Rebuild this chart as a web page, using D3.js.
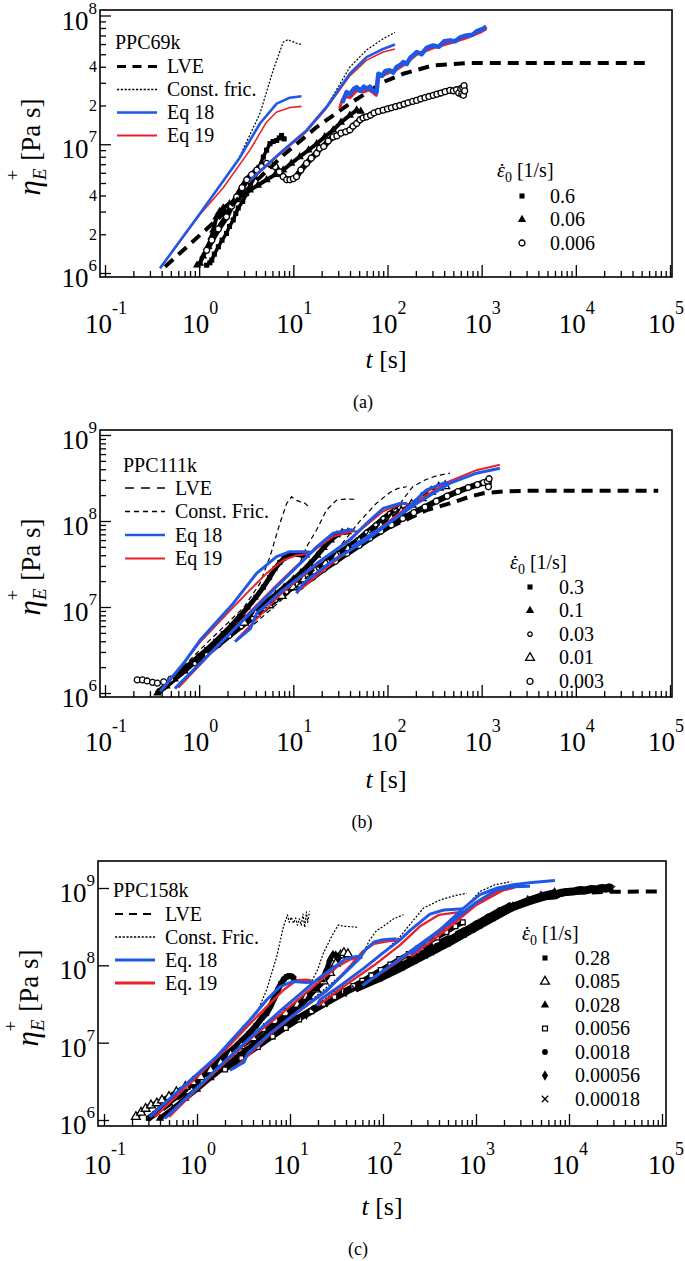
<!DOCTYPE html>
<html><head><meta charset="utf-8">
<script src="https://cdn.jsdelivr.net/npm/d3@7/dist/d3.min.js"></script>
<style>
body{margin:0;background:#fff}
svg{display:block}
text{font-family:"Liberation Serif","Times New Roman",serif;fill:#000}
</style>
</head><body>
<svg id="fig" width="685" height="1261"></svg>
<script>
// ===================== DATA (t [s], eta [Pa s]) =====================
// ---- Panel (a) PPC69k ----
const aSample = "PPC69k";
const aCurveLabels = ["LVE","Const. fric.","Eq 18","Eq 19"];
const aRates = ["0.6","0.06","0.006"];
const aLVE = [[0.434,1.12e6],[1.53,2.58e6],[3.46,4.67e6],[7.8,8.2e6],[17.7,1.36e7],[39.8,2.07e7],[90,3.04e7],[147,3.53e7],[306,4.1e7],[692,4.27e7],[6.1e4,4.27e7]];
const aCF1 = [[0.384,1.09e6],[1.02,2.9e6],[2.6,7.6e6],[4.42,1.73e7],[6.1,3.75e7],[7.8,6.2e7],[8.8,6.5e7],[9.5,6.3e7],[10.3,6.2e7],[11.2,6.0e7],[12.2,6.0e7]];
const aCF2 = [[3.46,5.26e6],[13.8,1.28e7],[22.5,1.95e7],[39.8,3.97e7],[60,5.4e7],[90,6.6e7],[120,7.4e7]];
const aB1 = [[0.384,1.09e6],[1.02,2.9e6],[2.71,7.9e6],[4.42,1.45e7],[6.65,2.07e7],[9.2,2.3e7],[12.2,2.36e7]];
const aB2 = [[3.46,5.26e6],[7.8,9.0e6],[13.8,1.28e7],[22.5,1.95e7],[39.8,3.53e7],[60,4.75e7],[90,5.5e7],[120,5.96e7]];
const aB3 = [[33,2.1e7],[36.8,2.54e7],[40,2.45e7],[44,2.7e7],[47,2.78e7],[52,2.6e7],[56,2.8e7],[60,2.7e7],[65,2.8e7],[70,2.6e7],[76.6,2.54e7],[78,3.0e7],[80,3.53e7],[88,3.4e7],[95,3.7e7],[106,3.75e7],[115,3.6e7],[125,3.98e7],[135,4.1e7],[147,4.35e7],[160,4.2e7],[175,4.7e7],[204,5.2e7],[230,5.0e7],[260,5.6e7],[306,5.85e7],[350,5.7e7],[400,6.3e7],[459,6.4e7],[520,6.3e7],[600,6.8e7],[691,7.0e7],[800,7.1e7],[900,7.6e7],[1000,7.8e7],[1122,8.2e7]];
const aR1 = [[0.384,1.09e6],[1,2.8e6],[1.8,4.6e6],[3.46,9.0e6],[5.2,1.49e7],[6.65,1.78e7],[9.2,1.93e7],[12.2,1.97e7]];
const aR2 = [[3.6,5.3e6],[7.8,8.8e6],[13.8,1.25e7],[22.5,1.9e7],[39.8,3.4e7],[60,4.5e7],[90,5.2e7],[120,5.5e7]];
const aR3 = [[31,1.9e7],[33,2.2e7],[36,2.35e7],[40,2.3e7],[47,2.6e7],[56,2.55e7],[65,2.65e7],[76,2.4e7],[80,3.3e7],[95,3.5e7],[125,3.8e7],[147,4.1e7],[204,5.0e7],[306,5.6e7],[459,6.1e7],[691,6.7e7],[1000,7.5e7],[1122,7.9e7]];
const aSq = [[1.2,1.15e6],[1.3,1.2e6],[1.36,1.26e6],[1.45,1.4e6],[1.6,1.6e6],[1.75,1.8e6],[1.95,2.03e6],[2.1,2.3e6],[2.3,2.58e6],[2.45,2.9e6],[2.6,3.2e6],[2.9,3.6e6],[3.2,4.15e6],[3.5,4.8e6],[3.9,5.6e6],[4.3,6.6e6],[4.8,7.95e6],[5.2,9e6],[5.65,1.01e7],[6.1,1.05e7],[6.65,1.07e7],[7.1,1.12e7],[7.5,1.17e7],[8,1.1e7]];
const aTri = [[0.95,1.15e6],[1.02,1.19e6],[1.1,1.35e6],[1.25,1.6e6],[1.35,1.9e6],[1.41,2.15e6],[1.53,2.73e6],[1.65,3.0e6],[1.8,3.2e6],[2.1,3.45e6],[2.5,3.7e6],[3,4.1e6],[3.46,4.4e6],[4.2,4.8e6],[5.2,5.3e6],[6.4,5.8e6],[7.8,6.3e6],[9.5,7.1e6],[11.7,8.0e6],[14.5,9.0e6],[17.7,1.01e7],[21.5,1.14e7],[26.5,1.29e7],[32,1.48e7],[39.8,1.68e7],[47,1.84e7],[52,1.8e7]];
const aCirc = [[1.2,1.5e6],[1.36,1.8e6],[1.6,2.2e6],[1.95,2.73e6],[2.2,3.3e6],[2.5,3.9e6],[2.85,4.6e6],[3.2,5.3e6],[3.6,5.8e6],[4.1,6.3e6],[4.6,6.7e6],[5.2,7.1e6],[5.8,6.9e6],[6.4,6.7e6],[7.1,6.1e6],[7.8,5.6e6],[8.5,5.3e6],[9.2,5.3e6],[10,5.4e6],[10.8,5.6e6],[12,6.3e6],[13.8,7.1e6],[15.5,7.8e6],[17.7,8.5e6],[19,9.3e6],[21,9.6e6],[23.5,1.06e7],[26.5,1.14e7],[29,1.16e7],[32,1.22e7],[36,1.25e7],[39.8,1.29e7],[43,1.38e7],[47,1.45e7],[51,1.55e7],[55,1.6e7],[60,1.63e7],[66,1.68e7],[72,1.75e7],[80,1.8e7],[90,1.84e7],[100,1.88e7],[110,1.92e7],[122,1.96e7],[135,2.0e7],[150,2.05e7],[165,2.1e7],[185,2.15e7],[204,2.19e7],[225,2.25e7],[250,2.3e7],[275,2.35e7],[306,2.4e7],[335,2.45e7],[370,2.5e7],[410,2.56e7],[459,2.62e7],[500,2.6e7],[540,2.65e7],[570,2.5e7],[600,2.7e7],[615,2.45e7],[630,2.75e7],[640,2.4e7],[650,2.85e7],[660,2.6e7]];

// ---- Panel (b) PPC111k ----
const bSample = "PPC111k";
const bCurveLabels = ["LVE","Const. Fric.","Eq 18","Eq 19"];
const bRates = ["0.3","0.1","0.03","0.01","0.003"];
const bLVE = [[0.35,1e6],[1,2.7e6],[3,7.5e6],[10,2.0e7],[30,4.4e7],[100,8.2e7],[260,1.34e8],[457,1.6e8],[750,1.92e8],[1040,2.1e8],[1700,2.2e8],[3000,2.25e8],[7.5e4,2.25e8]];
const bCF1 = [[0.38,1.05e6],[0.7,2.1e6],[1.2,3.8e6],[2,6.5e6],[3,1.0e7],[4.42,1.88e7],[5.65,3.85e7],[7.2,9.4e7],[8.5,1.6e8],[9.6,1.92e8],[10.2,1.8e8],[10.8,1.74e8],[11.8,1.68e8],[12.5,1.6e8],[13.2,1.62e8],[14,1.52e8],[15,1.47e8]];
const bCF2 = [[0.55,1.13e6],[1.02,2.2e6],[1.95,4.5e6],[3.46,8.4e6],[6.64,1.72e7],[11.8,3.3e7],[13.8,5.0e7],[17.7,7.9e7],[22.5,1.34e8],[28.8,1.75e8],[35,1.8e8],[45,1.79e8]];
const bCF3 = [[2.4,4e6],[10,1.6e7],[30,4.8e7],[51,1.0e8],[76,1.6e8],[106,2.15e8],[130,2.4e8],[160,2.5e8]];
const bCF4 = [[10.8,1.5e7],[30,3.8e7],[80,8.8e7],[130,1.5e8],[185,2.5e8],[250,3.0e8],[330,3.35e8],[460,3.6e8]];
const bB1 = [[0.384,1.04e6],[0.68,2.2e6],[1.02,4.1e6],[2.3,1.1e7],[4.07,2.46e7],[6.64,3.85e7],[9.2,4.4e7],[13.8,4.4e7],[15.5,4.3e7]];
const bB2 = [[0.553,1.13e6],[1.02,2.2e6],[1.95,4.5e6],[3.46,8.4e6],[6.64,1.72e7],[11.8,3.2e7],[17.7,5.0e7],[26.5,7.2e7],[39.8,7.9e7],[45,7.8e7]];
const bB3 = [[2.4,3.95e6],[3.5,5.6e6],[4.07,8.4e6],[7.8,1.58e7],[17.7,3.2e7],[39.8,6.0e7],[60,9.4e7],[90,1.4e8],[135,1.6e8],[160,1.6e8]];
const bB4 = [[10.8,1.44e7],[12.7,1.88e7],[26.5,3.5e7],[60,6.0e7],[135,1.17e8],[260,2.3e8],[390,2.74e8],[457,2.8e8]];
const bB5 = [[41.5,5.0e7],[90,8.6e7],[204,1.6e8],[457,2.74e8],[880,3.6e8],[1560,4.1e8]];
const bR1 = [[0.4,1.05e6],[1,3.8e6],[2,8.5e6],[3.46,1.58e7],[5.2,2.46e7],[7.8,3.5e7],[10.8,4.0e7],[13.8,4.1e7],[15,4.1e7]];
const bR2 = [[0.6,1.15e6],[1.5,3.3e6],[3.46,8.8e6],[6.64,1.8e7],[11.8,3.3e7],[17.7,4.8e7],[26.5,6.6e7],[39.8,7.5e7],[48,7.6e7]];
const bR3 = [[2.5,4.2e6],[7.8,1.5e7],[17.7,3.1e7],[39.8,6.2e7],[60,9.0e7],[90,1.3e8],[135,1.55e8],[165,1.6e8]];
const bR4 = [[11,1.5e7],[26.5,3.3e7],[60,6.2e7],[135,1.25e8],[260,2.2e8],[400,2.8e8],[480,2.9e8]];
const bR5 = [[42,4.9e7],[90,8.8e7],[204,1.7e8],[457,2.9e8],[880,3.9e8],[1560,4.5e8]];
const bSq = [[0.38,1.05e6],[0.45,1.25e6],[0.55,1.5e6],[0.7,1.95e6],[0.85,2.3e6],[1,2.7e6],[1.2,3.2e6],[1.5,4.0e6],[1.8,4.9e6],[2.2,6.1e6],[2.7,7.8e6],[3.3,1.0e7],[4,1.3e7],[4.8,1.7e7],[5.6,2.2e7],[6.4,2.8e7],[7.2,3.3e7],[8,3.7e7],[9,4.0e7],[10,4.1e7],[11,4.1e7],[12.5,4.0e7],[14,4.0e7]];
const bTri = [[0.36,1.0e6],[0.45,1.2e6],[0.55,1.45e6],[0.7,1.8e6],[0.9,2.3e6],[1.1,2.8e6],[1.4,3.5e6],[1.8,4.4e6],[2.3,5.5e6],[3,7.0e6],[4,9.0e6],[5,1.1e7],[6.5,1.4e7],[8,1.7e7],[10,2.1e7],[12,2.5e7],[15,3.2e7],[18,4.0e7],[21,4.9e7],[25,6.0e7],[29,6.9e7],[33,7.4e7],[38,7.5e7]];
const bCircS = [[0.9,2.2e6],[1.2,2.8e6],[1.6,3.6e6],[2.1,4.6e6],[2.8,5.9e6],[3.7,7.4e6],[5,9.5e6],[6.5,1.2e7],[8.5,1.5e7],[11,1.85e7],[14,2.3e7],[18,2.8e7],[23,3.4e7],[30,4.2e7],[38,5.0e7],[48,6.0e7],[60,7.4e7],[75,9.0e7],[90,1.07e8],[105,1.22e8],[120,1.35e8],[135,1.42e8]];
const bTriO = [[3,6.6e6],[4,8.3e6],[5.5,1.05e7],[7.5,1.35e7],[10,1.7e7],[13,2.1e7],[17,2.6e7],[22,3.2e7],[29,3.9e7],[38,4.7e7],[50,5.8e7],[65,7.1e7],[85,8.7e7],[110,1.06e8],[140,1.28e8],[180,1.55e8],[230,1.85e8],[290,2.2e8],[350,2.45e8],[410,2.55e8]];
const bCircEarly = [[0.22,1.42e6],[0.25,1.42e6],[0.28,1.38e6],[0.32,1.33e6],[0.36,1.3e6],[0.42,1.35e6],[0.5,1.45e6]];
const bCirc = [[12,1.75e7],[16,2.2e7],[21,2.75e7],[28,3.4e7],[37,4.2e7],[50,5.2e7],[65,6.3e7],[85,7.6e7],[110,9.0e7],[145,1.07e8],[190,1.25e8],[250,1.45e8],[330,1.7e8],[430,1.95e8],[560,2.2e8],[720,2.45e8],[900,2.65e8],[1050,2.8e8],[1150,2.9e8],[1180,2.5e8],[1200,3.1e8]];

// ---- Panel (c) PPC158k ----
const cSample = "PPC158k";
const cCurveLabels = ["LVE","Const. Fric.","Eq. 18","Eq. 19"];
const cRates = ["0.28","0.085","0.028","0.0056","0.0018","0.00056","0.00018"];
const cLVE = [[0.3,1e6],[1,2.9e6],[3,7.2e6],[10,1.8e7],[30,4.0e7],[100,8.5e7],[300,1.7e8],[1000,3.5e8],[3000,6.3e8],[1e4,8.6e8],[3e4,8.95e8],[9.5e4,9.0e8]];
const cCF1 = [[0.31,1.1e6],[0.71,2.7e6],[1.63,6.6e6],[3,1.45e7],[4.39,2.4e7],[5.6,4.8e7],[7.2,1.3e8],[8.5,3.17e8],[9.4,4.5e8],[9.8,3.6e8],[10.3,4.2e8],[10.9,3.5e8],[11.5,4.1e8],[12,3.3e8],[12.6,4.0e8],[13.2,3.3e8],[13.8,4.6e8],[14.4,3.1e8],[15,4.9e8],[15.5,3.6e8],[16.2,5.0e8]];
const cCF2 = [[0.45,1.05e6],[2,5.8e6],[8.5,2.8e7],[16.4,5.6e7],[20,9e7],[22.8,1.43e8],[28,2.36e8],[33,3.33e8],[38,3.2e8],[44,3.17e8],[54,3.1e8]];
const cCF3 = [[2.26,4.4e6],[12,2.5e7],[45,9.5e7],[55,1.2e8],[61,1.43e8],[72,2.13e8],[85,2.8e8],[101,3.2e8],[130,4.0e8],[166,4.5e8]];
const cCF4 = [[19.4,3.0e7],[61,9e7],[100,1.45e8],[150,2.3e8],[200,3.5e8],[272,5.5e8],[410,7.0e8],[600,8.0e8],[795,8.55e8]];
const cCF5 = [[60,5.5e7],[300,2.2e8],[600,4.2e8],[800,6.0e8],[1100,9.0e8],[1600,1.1e9],[2400,1.21e9]];
const cB1 = [[0.31,1.1e6],[0.71,2.7e6],[1.63,6.6e6],[3.7,1.96e7],[5.6,3.56e7],[7.8,5.3e7],[10.9,6.2e7],[15,6.0e7],[18,6.1e7]];
const cB2 = [[0.45,1.05e6],[1,2.6e6],[2,5.8e6],[4,1.25e7],[8.5,2.8e7],[19.4,6.5e7],[31.8,1.0e8],[40,1.22e8],[52,1.3e8],[60,1.3e8]];
const cB3 = [[2.26,4.4e6],[3.2,5.6e6],[3.5,7.2e6],[6,1.3e7],[12,2.5e7],[25,4.8e7],[45,9.5e7],[55,1.2e8],[65,1.6e8],[80,2.0e8],[100,2.15e8],[140,2.2e8]];
const cB4 = [[19.4,3.0e7],[21,3.6e7],[35,5.5e7],[61,9e7],[100,1.45e8],[150,2.1e8],[200,2.9e8],[320,4.6e8],[450,5.2e8],[731,5.4e8]];
const cB5 = [[60,5.5e7],[150,1.2e8],[300,2.2e8],[600,4.0e8],[1000,6.5e8],[1670,9.5e8],[2500,1.04e9],[3800,1.05e9]];
const cB6 = [[200,1.4e8],[400,2.8e8],[700,5.2e8],[1100,8.2e8],[1700,1.0e9],[2500,1.1e9],[4000,1.18e9],[7060,1.25e9]];
const cR1 = [[0.35,1.1e6],[1,3.6e6],[2,8e6],[3.7,1.75e7],[5.6,2.9e7],[8.5,4.8e7],[11.8,6.4e7],[15,6.5e7],[17,6.4e7]];
const cR2 = [[0.5,1.1e6],[1,2.5e6],[2,5.5e6],[4,1.2e7],[8.5,2.5e7],[19.4,5.8e7],[31.8,9.5e7],[45,1.2e8],[60,1.25e8]];
const cR3 = [[2.5,4.6e6],[6,1.25e7],[12,2.45e7],[25,4.7e7],[45,1.0e8],[60,1.5e8],[80,1.9e8],[110,2.05e8],[150,2.1e8]];
const cR4 = [[20,3.0e7],[40,5.6e7],[80,1.0e8],[150,1.8e8],[250,3.2e8],[400,4.5e8],[600,4.8e8],[800,4.9e8]];
const cR5 = [[60,5.5e7],[150,1.15e8],[300,2.1e8],[600,3.8e8],[1000,6.2e8],[1700,9.0e8],[2500,1.0e9],[3200,1.12e9]];
const cR6 = [[200,1.3e8],[500,3.0e8],[1000,6.0e8],[2000,9.5e8],[3200,1.13e9]];
const cSq = [[0.3,1.05e6],[0.35,1.2e6],[0.42,1.45e6],[0.5,1.7e6],[0.6,2.0e6],[0.75,2.5e6],[0.9,3.0e6],[1.1,3.6e6],[1.35,4.5e6],[1.65,5.5e6],[2,6.8e6],[2.5,8.5e6],[3,1.05e7],[3.6,1.3e7],[4.3,1.65e7],[5,2.1e7],[5.6,2.4e7],[6.2,3.0e7],[6.8,3.8e7],[7.4,4.8e7],[8,5.8e7],[8.6,6.6e7],[9.2,7.1e7],[9.8,7.3e7],[10.4,7.2e7],[11,6.8e7]];
const cTriO = [[0.22,1.1e6],[0.25,1.25e6],[0.28,1.4e6],[0.32,1.55e6],[0.37,1.65e6],[0.42,1.8e6],[0.5,2.0e6],[0.6,2.3e6],[0.75,2.7e6],[0.9,3.1e6],[1.1,3.6e6],[1.4,4.4e6],[1.8,5.5e6],[2.3,7e6],[3,9e6],[4,1.15e7],[5.2,1.5e7],[7,1.9e7],[9,2.4e7],[12,3.1e7],[15,3.9e7],[19,4.9e7],[23,6.2e7],[27,8.0e7],[31,1.05e8],[35,1.35e8],[38,1.45e8],[42,1.4e8]];
const cTri = [[0.4,1.05e6],[0.55,1.4e6],[0.75,1.9e6],[1,2.5e6],[1.4,3.5e6],[2,4.9e6],[2.8,6.8e6],[4,9.5e6],[5.5,1.3e7],[7.5,1.75e7],[10,2.3e7],[13,3.0e7],[16,3.9e7],[19,5.0e7],[22,6.5e7],[25,9e7],[27,1.2e8],[29,1.38e8],[31,1.36e8],[33,1.3e8]];
const cSqO = [[2,4.5e6],[3,6.3e6],[4.5,8.8e6],[6.5,1.2e7],[9,1.55e7],[12.5,2.0e7],[17,2.55e7],[23,3.2e7],[30,3.9e7],[38,4.6e7],[48,5.4e7],[60,6.3e7],[75,7.4e7],[95,8.7e7],[120,1.02e8],[150,1.2e8],[190,1.4e8],[240,1.65e8],[300,1.95e8],[380,2.3e8],[480,2.7e8],[600,3.2e8],[720,3.6e8]];
const cCirc = [[5,1.15e7],[8,1.6e7],[12,2.1e7],[18,2.8e7],[27,3.6e7],[40,4.6e7],[60,5.8e7],[90,7.4e7],[130,9.2e7],[190,1.15e8],[270,1.45e8],[380,1.8e8],[530,2.25e8],[730,2.8e8],[1000,3.5e8],[1350,4.3e8],[1800,5.2e8],[2300,6.0e8]];
const cDia = [[15,2.3e7],[25,3.3e7],[40,4.5e7],[65,6.0e7],[100,7.6e7],[150,9.5e7],[230,1.2e8],[350,1.55e8],[520,2.0e8],[780,2.6e8],[1150,3.4e8],[1700,4.5e8],[2500,5.8e8],[3600,7.0e8],[5000,8.0e8],[7000,8.8e8]];
const cX = [[50,5e7],[90,6.8e7],[160,9.5e7],[280,1.35e8],[500,1.95e8],[900,2.9e8],[1500,4.1e8],[2500,5.7e8],[3800,6.8e8],[5500,7.8e8],[7000,8.0e8],[8000,8.6e8],[9500,8.9e8],[1.1e4,9.0e8],[1.3e4,9.4e8],[1.5e4,9.3e8],[1.75e4,9.7e8],[2e4,9.6e8],[2.25e4,1.0e9],[2.5e4,9.8e8],[2.7e4,1.02e9],[2.9e4,9.7e8]];

// tick exponents
const xExps = [-1,0,1,2,3,4,5];

// ===================== DRAWING =====================
const BLUE = "#1f58e6", RED = "#e8212b";
const svg = d3.select("#fig");

const SYM = {
  sq:   {type:d3.symbolSquare,   size:26, fill:"#000", stroke:"none"},
  tri:  {type:d3.symbolTriangle, size:30, fill:"#000", stroke:"none"},
  circO:{type:d3.symbolCircle,   size:28, fill:"#fff", stroke:"#000"},
  circOs:{type:d3.symbolCircle,  size:16, fill:"#fff", stroke:"#000"},
  triO: {type:d3.symbolTriangle, size:34, fill:"#fff", stroke:"#000"},
  sqO:  {type:d3.symbolSquare,   size:24, fill:"#fff", stroke:"#000"},
  circ: {type:d3.symbolCircle,   size:26, fill:"#000", stroke:"none"},
  dia:  {type:d3.symbolDiamond,  size:32, fill:"#000", stroke:"none"},
  x:    {type:d3.symbolTimes,    size:28, fill:"none", stroke:"#000"}
};

function marker(sel, key){
  const s = SYM[key];
  sel.attr("d", d3.symbol(s.type, s.size)())
     .attr("fill", s.fill).attr("stroke", s.stroke)
     .attr("stroke-width", s.stroke==="none"?0:1.3);
}

function powText(g, x, y, exp, anchor, size, supSize, shift){
  const t = g.append("text").attr("x",x).attr("y",y).attr("text-anchor",anchor).style("font-size",size+"px");
  t.append("tspan").text("10");
  t.append("tspan").attr("dy",-shift).style("font-size",supSize+"px").text(exp);
}

function drawPanel(P){
  const g = svg.append("g");
  const x = d3.scaleLog().domain([0.1,1e5]).range(P.xr);
  const y = d3.scaleLog().domain(P.yDom).range(P.yr);
  const F = P.frame;
  svg.append("clipPath").attr("id","clip"+P.id).append("rect")
    .attr("x",F.l).attr("y",F.t).attr("width",F.r-F.l).attr("height",F.b-F.t);
  const plot = g.append("g").attr("clip-path",`url(#clip${P.id})`);
  const line = d3.line().x(d=>x(d[0])).y(d=>y(d[1]));
  const curve = (pts,color,w,dash)=>plot.append("path").attr("d",line(pts))
     .attr("fill","none").attr("stroke",color).attr("stroke-width",w)
     .attr("stroke-dasharray",dash||null).attr("stroke-linejoin","round").attr("stroke-linecap","butt");

  if(!P.lveTop) curve(P.lve,"#000",4,"11,7");
  P.data.forEach(s=>{ if(s.band!==0) curve(s.pts,"#000",s.band||P.band||3); });
  P.data.forEach(s=>{
    plot.append("g").selectAll("path").data(s.pts).join("path")
      .attr("transform",d=>`translate(${x(d[0])},${y(d[1])})`).call(marker,s.sym);
  });
  if(P.lveTop) curve(P.lve,"#000",4,"11,7");
  P.cf.forEach(c=>curve(c,"#000",1.2,P.cfDash));
  P.red.forEach((c,i)=>curve(c,RED,(P.redWs&&P.redWs[i])||P.redW));
  P.blue.forEach((c,i)=>curve(c,BLUE,(P.blueWs&&P.blueWs[i])||P.blueW));

  // axes ticks (inward)
  const xMajor = xExps.map(e=>Math.pow(10,e));
  const xMinor = []; for(let e=-1;e<5;e++) for(let m=2;m<10;m++) xMinor.push(m*Math.pow(10,e));
  const styleAxis = a=>{ a.select(".domain").remove(); a.selectAll("line").attr("stroke","#000").attr("stroke-width",1.3); a.selectAll("text").remove(); };
  g.append("g").attr("transform",`translate(0,${F.b})`).call(d3.axisBottom(x).tickValues(xMajor).tickSize(-12).tickFormat("")).call(styleAxis);
  g.append("g").attr("transform",`translate(0,${F.b})`).call(d3.axisBottom(x).tickValues(xMinor).tickSize(-6).tickFormat("")).call(styleAxis);
  const yMajor = P.yExps.map(e=>Math.pow(10,e));
  g.append("g").attr("transform",`translate(${F.l},0)`).call(d3.axisLeft(y).tickValues(yMajor).tickSize(-11).tickFormat("")).call(styleAxis);
  if(P.yMinor){
    const ym=[]; for(let i=0;i<P.yExps.length-1;i++) for(let m=2;m<10;m++) ym.push(m*Math.pow(10,P.yExps[i]));
    g.append("g").attr("transform",`translate(${F.l},0)`).call(d3.axisLeft(y).tickValues(ym).tickSize(-6).tickFormat("")).call(styleAxis);
  }
  g.append("rect").attr("x",F.l).attr("y",F.t).attr("width",F.r-F.l).attr("height",F.b-F.t)
    .attr("fill","none").attr("stroke","#000").attr("stroke-width",1.6);

  // tick labels
  xExps.forEach(e=>{
    const xx = x(Math.pow(10,e));
    if(e===5) powText(g, 684, P.xLabY, String(e), "end", 27, 18, 19);
    else powText(g, xx+1, P.xLabY, String(e), "middle", 27, 18, 19);
  });
  P.yExps.forEach(e=>powText(g, P.yLabX, y(Math.pow(10,e))+14, String(e), "end", 27, 17, 16));
  if(P.yMinorLabels){
    P.yExps.slice(0,-1).forEach(e=>P.yMinorLabels.forEach(m=>{
      g.append("text").attr("x",P.yLabX).attr("y",y(m*Math.pow(10,e))+5.5).attr("text-anchor","end").style("font-size","16px").text(m);
    }));
  }

  // axis titles
  const tl = g.append("text").attr("x",(F.l+F.r)/2).attr("y",P.tLabY).attr("text-anchor","middle").style("font-size","26px");
  tl.append("tspan").style("font-style","italic").text("t");
  tl.append("tspan").text(" [s]");
  g.append("text").attr("x",P.capX).attr("y",P.capY).attr("text-anchor","middle").style("font-size","18px").text(P.cap);

  const yl = g.append("text").attr("transform",`translate(${P.yTitle[0]},${P.yTitle[1]}) rotate(-90)`)
     .attr("text-anchor","middle").style("font-size","27px");
  yl.append("tspan").style("font-style","italic").style("font-size","31px").text("η");
  yl.append("tspan").style("font-style","italic").style("font-size","19px").attr("dy",6).text("E");
  yl.append("tspan").style("font-size","19px").attr("dx",-12).attr("dy",-27).text("+");
  yl.append("tspan").attr("dx",9).attr("dy",21).text("[Pa s]");

  // left legend (curves)
  const L = P.leg;
  g.append("text").attr("x",L.titleX).attr("y",L.titleY+6.5).style("font-size","20px").text(P.sample);
  P.curveLabels.forEach((lab,i)=>{
    const st = L.styles[i], yy = L.y0 + i*L.dy;
    g.append("line").attr("x1",L.x0).attr("x2",L.x1).attr("y1",yy).attr("y2",yy)
      .attr("stroke",st.c).attr("stroke-width",st.w).attr("stroke-dasharray",st.d||null);
    g.append("text").attr("x",L.tx).attr("y",yy+6.5).style("font-size","20px").text(lab);
  });

  // right legend (rates)
  const R = P.rleg;
  const by = R.titleY+6.5;
  const rt = g.append("text").attr("x",R.titleX).attr("y",by).style("font-size","20px");
  rt.append("tspan").style("font-style","italic").text("ε");
  rt.append("tspan").attr("dy",5).style("font-size","14px").text("0");
  rt.append("tspan").attr("dy",-5).text(" [1/s]");
  g.append("text").attr("x",R.titleX+5).attr("y",by+1).attr("text-anchor","middle").style("font-size","20px").text("\u02D9");
  P.rates.forEach((r,i)=>{
    const yy = R.y0 + i*R.dy;
    g.append("path").attr("transform",`translate(${R.mx},${yy})`).call(marker,P.data[R.order[i]].sym);
    g.append("text").attr("x",R.tx).attr("y",yy+6.5).style("font-size","20px").text(r);
  });
}

const styA = [{c:"#000",w:2.8,d:"9,6.5"},{c:"#000",w:1.5,d:"2.2,1.6"},{c:BLUE,w:2.5},{c:RED,w:1.8}];
const styB = [{c:"#000",w:1.6,d:"9,7"},{c:"#000",w:1.6,d:"5,4"},{c:BLUE,w:2.4},{c:RED,w:1.8}];
const styC = [{c:"#000",w:2,d:"8,6"},{c:"#000",w:1.5,d:"2.2,1.6"},{c:BLUE,w:3},{c:RED,w:3}];

drawPanel({
  id:"a", frame:{l:100,r:672,t:10,b:277}, xr:[105,670], yDom:[1e6,1e8], yr:[273,15.5],
  yExps:[6,7,8], yMinor:true, yMinorLabels:[2,4], yLabX:97,
  xLabY:333, tLabY:368, capX:363, capY:408, cap:"(a)", yTitle:[40,147],
  lve:aLVE, lveTop:true, cf:[aCF1,aCF2], cfDash:"2,1.6",
  red:[aR1,aR2,aR3], redW:1.6, redWs:[1.6,1.6,3],
  blue:[aB1,aB2,aB3], blueW:2.6, blueWs:[2.6,2.6,4.5],
  data:[{pts:aSq,sym:"sq",band:3.5},{pts:aTri,sym:"tri",band:4},{pts:aCirc,sym:"circO",band:6}],
  sample:aSample, curveLabels:aCurveLabels, rates:aRates,
  leg:{titleX:115,titleY:42,x0:117,x1:157,tx:167,y0:66.5,dy:23,styles:styA},
  rleg:{titleX:497,titleY:170,mx:522,tx:550,y0:196,dy:23.5,order:[0,1,2]}
});

drawPanel({
  id:"b", frame:{l:100,r:672,t:430,b:697}, xr:[105,670], yDom:[1e6,1e9], yr:[693,435],
  yExps:[6,7,8,9], yMinor:true, yMinorLabels:null, yLabX:97,
  xLabY:751, tLabY:788, capX:362, capY:828, cap:"(b)", yTitle:[40,567],
  lve:bLVE, lveTop:false, cf:[bCF1,bCF2,bCF3,bCF4], cfDash:"5,3.5",
  red:[bR1,bR2,bR3,bR4,bR5], redW:2,
  blue:[bB1,bB2,bB3,bB4,bB5], blueW:3, band:5,
  data:[{pts:bSq,sym:"sq"},{pts:bTri,sym:"tri"},{pts:bCircS,sym:"circOs"},{pts:bTriO,sym:"triO"},{pts:bCirc,sym:"circO",band:6},{pts:bCircEarly,sym:"circO",band:0}],
  sample:bSample, curveLabels:bCurveLabels, rates:bRates,
  leg:{titleX:123,titleY:465,x0:125,x1:165,tx:175,y0:488,dy:23.5,styles:styB},
  rleg:{titleX:510,titleY:562,mx:530,tx:559,y0:587,dy:23.6,order:[0,1,2,3,4]}
});

drawPanel({
  id:"c", frame:{l:98,r:666,t:861,b:1126}, xr:[104,662], yDom:[1e6,1e9], yr:[1120,888],
  yExps:[6,7,8,9], yMinor:false, yMinorLabels:null, yLabX:95,
  xLabY:1174, tLabY:1215, capX:358, capY:1255, cap:"(c)", yTitle:[38,998],
  lve:cLVE, lveTop:false, cf:[cCF1,cCF2,cCF3,cCF4,cCF5], cfDash:"2,1.6",
  red:[cR1,cR2,cR3,cR4,cR5,cR6], redW:2.4,
  blue:[cB1,cB2,cB3,cB4,cB5,cB6], blueW:3, band:5,
  data:[{pts:cSq,sym:"sq",band:6},{pts:cTriO,sym:"triO"},{pts:cTri,sym:"tri"},{pts:cSqO,sym:"sqO"},{pts:cCirc,sym:"circ"},{pts:cDia,sym:"dia",band:6},{pts:cX,sym:"x",band:8}],
  sample:cSample, curveLabels:cCurveLabels, rates:cRates,
  leg:{titleX:113,titleY:890,x0:115,x1:155,tx:165,y0:914,dy:23,styles:styC},
  rleg:{titleX:522,titleY:933,mx:545,tx:575,y0:958,dy:23.5,order:[0,1,2,3,4,5,6]}
});
</script>
</body></html>
